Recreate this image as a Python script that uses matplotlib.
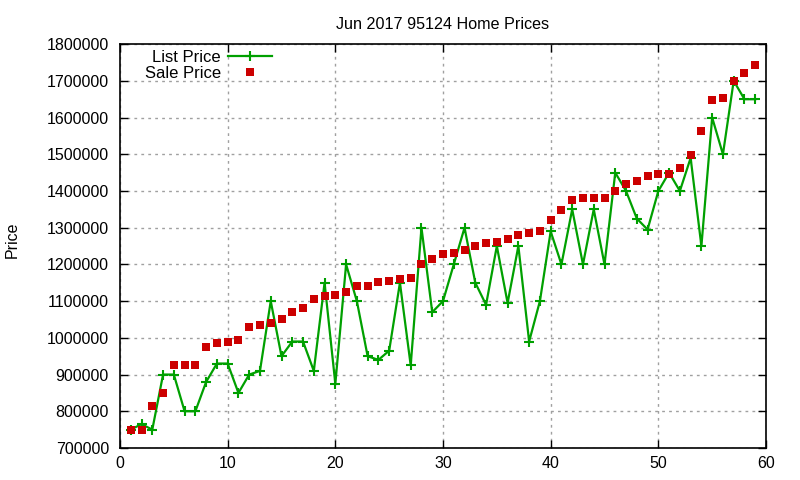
import matplotlib
matplotlib.use("Agg")
import matplotlib.pyplot as plt
from matplotlib.ticker import MultipleLocator

plt.rcParams['font.family'] = ['Liberation Sans', 'DejaVu Sans']

x = list(range(1, 60))
list_price = [750000, 765000, 750000, 900000, 900000, 800000, 800000, 880000, 930000, 930000,
              850000, 900000, 910000, 1100000, 950000, 990000, 990000, 910000, 1150000, 875000,
              1200000, 1100000, 950000, 940000, 965000, 1150000, 925000, 1300000, 1070000, 1100000,
              1200000, 1300000, 1150000, 1090000, 1250000, 1095000, 1250000, 990000, 1100000, 1290000,
              1200000, 1350000, 1200000, 1350000, 1200000, 1450000, 1400000, 1325000, 1295000, 1400000,
              1450000, 1400000, 1490000, 1250000, 1600000, 1500000, 1700000, 1650000, 1650000]
sale_price = [750000, 750000, 815000, 850000, 925000, 925000, 925000, 975000, 985000, 990000,
              993000, 1030000, 1035000, 1040000, 1050000, 1070000, 1080000, 1105000, 1115000, 1118000,
              1125000, 1142000, 1142000, 1152000, 1155000, 1160000, 1163000, 1200000, 1215000, 1228000,
              1230000, 1240000, 1250000, 1258000, 1262000, 1270000, 1280000, 1285000, 1290000, 1320000,
              1348000, 1375000, 1380000, 1380000, 1380000, 1400000, 1420000, 1428000, 1441000, 1447000,
              1447000, 1463000, 1498000, 1564000, 1648000, 1654000, 1700000, 1722000, 1744000]

fig = plt.figure(figsize=(8, 4.8), dpi=100)
ax = fig.add_axes([0.15, 0.0667, 0.8075, 0.8413])

ax.plot(x, list_price, color='#00a000', linewidth=1.6, marker='+', markersize=7,
        markeredgewidth=1.5, label='List Price', zorder=3)
ax.plot(x, sale_price, linestyle='none', marker='s', markersize=6, color='#cc0000',
        markeredgewidth=0, label='Sale Price', zorder=4)

ax.set_xlim(0, 60)
ax.set_ylim(700000, 1800000)
ax.xaxis.set_major_locator(MultipleLocator(10))
ax.yaxis.set_major_locator(MultipleLocator(100000))
ax.ticklabel_format(style='plain', axis='y', useOffset=False)
ax.grid(True, color='#a0a0a0', linestyle=(0, (2, 3)), linewidth=1)
ax.tick_params(direction='in', top=True, right=True, length=6, width=1, labelsize=11.5)
ax.tick_params(axis='y', pad=8)
ax.tick_params(axis='x', pad=6)
for s in ax.spines.values():
    s.set_linewidth(1.2)

ax.set_title('Jun 2017 95124 Home Prices', fontsize=11.6, pad=11)
fig.text(0.015, 0.5, 'Price', rotation=90, va='center', ha='center', fontsize=11.5)

leg = ax.legend(loc='upper left', markerfirst=False, frameon=False, fontsize=12,
                bbox_to_anchor=(0.02, 1.015), handlelength=2.6, handletextpad=0.45,
                labelspacing=0.05, borderaxespad=0.3)
for t in leg.get_texts():
    t.set_ha('right')

fig.savefig('out.png', dpi=100)
